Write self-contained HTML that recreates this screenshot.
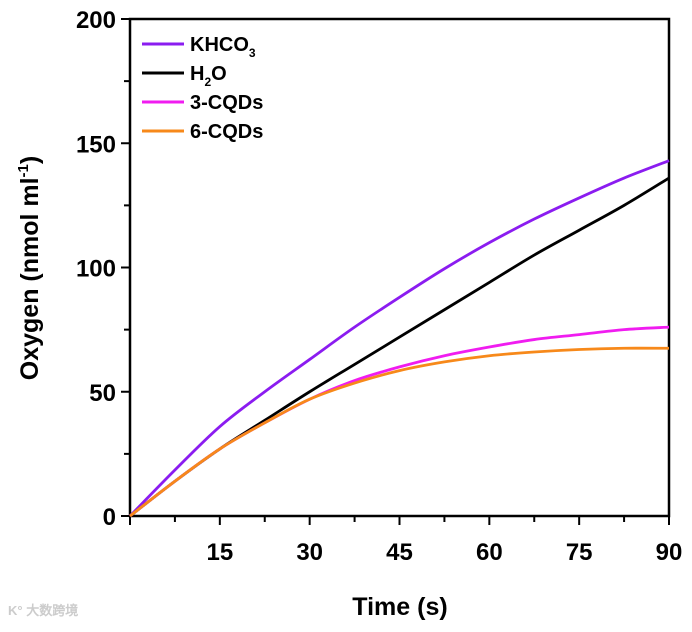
<!DOCTYPE html>
<html><head><meta charset="utf-8"><style>
body{margin:0;background:#fff;width:692px;height:627px;overflow:hidden}
text{font-family:"Liberation Sans",Arial,sans-serif;font-weight:bold}
</style></head><body>
<svg id="chart" width="692" height="627" xmlns="http://www.w3.org/2000/svg">
<g id="axes"></g><g id="series"></g><g id="legend"></g>
<text x="400" y="615" font-size="25" text-anchor="middle">Time (s)</text>
<text transform="translate(38,268) rotate(-90)" font-size="25" text-anchor="middle">Oxygen (nmol ml<tspan dy="-10" font-size="15">-1</tspan><tspan dy="10">)</tspan></text>
<text x="8" y="615" font-size="13" fill="#ccc" font-weight="normal" font-family="'Noto Sans CJK SC',sans-serif">K° 大数跨境</text>
</svg>
<script>
const times=[0,7.5,15,22.5,30,37.5,45,52.5,60,67.5,75,82.5,90];
const khco3=[0,18.5,36,50,63,76,88,99.5,110,119.5,128,136,143];
const h2o=[0,14,27,38.5,50,61,72,83,94,105,115,125,136];
const cqd3=[0,14,27,37.5,47,54.5,60,64.5,68,71,73,75,76];
const cqd6=[0,14,27,37.5,47,53.5,58.5,62,64.5,66,67,67.5,67.5];
const seriesNames=["KHCO3","H2O","3-CQDs","6-CQDs"];
const xTicks=[15,30,45,60,75,90];
const yTicks=[0,50,100,150,200];
const L=130,R=669,T=19,B=516;
const sx=v=>L+(v/90)*(R-L), sy=v=>B-(v/200)*(B-T);
const NS="http://www.w3.org/2000/svg";
function mk(tag,attrs,parent){const e=document.createElementNS(NS,tag);for(const k in attrs)e.setAttribute(k,attrs[k]);parent.appendChild(e);return e;}
const ax=document.getElementById('axes');
const frame=mk('rect',{x:L,y:T,width:R-L,height:B-T,fill:'none',stroke:'#000','stroke-width':2.5},ax);


for(let v=0;v<=90;v+=7.5){const big=v%15===0;const t=mk('line',{x1:sx(v),x2:sx(v),y1:B,y2:B+(big?9:6),stroke:'#000','stroke-width':2},ax);

}
xTicks.forEach(v=>{const t=mk('text',{x:sx(v),y:560,'font-size':24,'text-anchor':'middle'},ax);t.textContent=v;

});
for(let v=0;v<=200;v+=25){const big=v%50===0;const t=mk('line',{x1:L-(big?9:6),x2:L,y1:sy(v),y2:sy(v),stroke:'#000','stroke-width':2},ax);

}
yTicks.forEach(v=>{const t=mk('text',{x:L-14,y:sy(v)+9,'font-size':24,'text-anchor':'end'},ax);t.textContent=v;

});
const colors=['#8B1CF0','#000000','#F01CF0','#F7891A'];
const data=[khco3,h2o,cqd3,cqd6];
const sg=document.getElementById('series');
data.forEach((arr,i)=>{
 const p=times.map((t,j)=>[sx(t),sy(arr[j])]);
 let d=`M${p[0][0]},${p[0][1]}`;
 for(let j=0;j<p.length-1;j++){const p0=p[j-1]||p[j],p1=p[j],p2=p[j+1],p3=p[j+2]||p2;
  d+=` C${p1[0]+(p2[0]-p0[0])/6},${p1[1]+(p2[1]-p0[1])/6} ${p2[0]-(p3[0]-p1[0])/6},${p2[1]-(p3[1]-p1[1])/6} ${p2[0]},${p2[1]}`;}
 const path=mk('path',{d,fill:'none',stroke:colors[i],'stroke-width':2.8},sg);
 
 
});
const lg=document.getElementById('legend');
const labels=['KHCO<tspan dy="6" font-size="12">3</tspan>','H<tspan dy="6" font-size="12">2</tspan><tspan dy="-6">O</tspan>','3-CQDs','6-CQDs'];
labels.forEach((lab,i)=>{const y=44+i*29;
 const ln=mk('line',{x1:142,x2:184,y1:y,y2:y,stroke:colors[i],'stroke-width':3},lg);
 
 
 const t=mk('text',{x:190,y:y+7,'font-size':20},lg);t.innerHTML=lab;
 
 
});
</script>
</body></html>
